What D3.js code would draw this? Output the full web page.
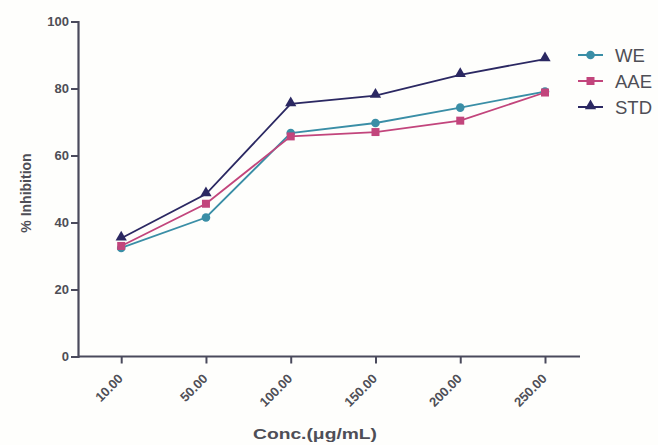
<!DOCTYPE html>
<html><head><meta charset="utf-8">
<script src="https://cdn.jsdelivr.net/npm/d3@7"></script>
<style>body{margin:0;background:#fefefc;} svg{display:block;font-family:"Liberation Sans",Arial,sans-serif;}</style>
</head><body>
<svg id="c" width="658" height="445"></svg>
<script>
const categories = ["10.00","50.00","100.00","150.00","200.00","250.00"];
const weValues  = [32.4, 41.5, 66.7, 69.7, 74.3, 79.1];
const aaeValues = [33.0, 45.6, 65.7, 67.0, 70.4, 78.8];
const stdValues = [35.3, 48.5, 75.4, 77.9, 84.1, 88.8];
const seriesNames = ["WE","AAE","STD"];
const yTicks = [0,20,40,60,80,100];

const colors = {WE:"#3a8ea6", AAE:"#c2457c", STD:"#2b2862"};
const symbols = {WE:d3.symbolCircle, AAE:d3.symbolSquare, STD:d3.symbolTriangle};
const symSize = {WE:58, AAE:64, STD:55};
const series = [
  {name:"WE", values:weValues},
  {name:"AAE", values:aaeValues},
  {name:"STD", values:stdValues}
];

const svg = d3.select("#c");
const axisColor = "#4a4a5c";
const textColor = "#4e4e56";
const x = d3.scalePoint().domain(categories).range([121.2, 545]);
const y = d3.scaleLinear().domain([0,100]).range([356.5, 21.5]);
const axisLeftX = 78, axisRightX = 580;

// y axis
const ya = svg.append("g").attr("transform",`translate(${axisLeftX},0)`)
  .call(d3.axisLeft(y).tickValues(yTicks).tickSize(7).tickPadding(2).tickFormat(d3.format("d")));
ya.select(".domain").attr("stroke",axisColor).attr("stroke-width",2.2);
ya.selectAll(".tick line").attr("stroke",axisColor).attr("stroke-width",2);
ya.selectAll(".tick text").attr("fill",textColor).attr("font-size","13px").attr("font-weight","bold");

// x axis
const xa = svg.append("g").attr("transform",`translate(0,${y(0)})`)
  .call(d3.axisBottom(x).tickSize(7).tickSizeOuter(0));
xa.select(".domain").attr("d",`M${axisLeftX},0H${axisRightX}`).attr("stroke",axisColor).attr("stroke-width",2.2);
xa.selectAll(".tick line").attr("stroke",axisColor).attr("stroke-width",2);
xa.selectAll(".tick text").attr("fill",textColor).attr("font-size","13px").attr("font-weight","bold")
  .attr("text-anchor","end").attr("dy",null).attr("y",null)
  .attr("transform","translate(2,23) rotate(-45)");

// axis titles
svg.append("text").attr("x",253).attr("y",439)
  .attr("textLength",124).attr("lengthAdjust","spacingAndGlyphs")
  .attr("font-size","15px").attr("font-weight","bold").attr("fill",textColor).text("Conc.(μg/mL)");
svg.append("text").attr("transform","translate(31,193) rotate(-90)").attr("text-anchor","middle")
  .attr("font-size","14px").attr("font-weight","bold").attr("fill",textColor).text("% Inhibition");

// lines
const line = d3.line().x((d,i)=>x(categories[i])).y(d=>y(d));
series.forEach(s=>{
  svg.append("path").datum(s.values).attr("d",line).attr("fill","none")
    .attr("stroke",colors[s.name]).attr("stroke-width",1.8);
});
series.forEach(s=>{
  svg.selectAll(null).data(s.values).enter().append("path")
    .attr("d",d3.symbol().type(symbols[s.name]).size(symSize[s.name]))
    .attr("transform",(d,i)=>`translate(${x(categories[i])},${y(d)+(s.name==="STD"?-1:0)})`)
    .attr("fill",colors[s.name]);
});

// legend
const lg = svg.append("g");
seriesNames.forEach((n,i)=>{
  const yy = 55 + i*26;
  lg.append("line").attr("x1",578).attr("x2",603).attr("y1",yy).attr("y2",yy)
    .attr("stroke",colors[n]).attr("stroke-width",2);
  lg.append("path").attr("d",d3.symbol().type(symbols[n]).size(symSize[n]))
    .attr("transform",`translate(590.5,${yy+(n==="STD"?-1:0)})`).attr("fill",colors[n]);
  lg.append("text").attr("x",615).attr("y",yy+6.5).attr("font-size","18.5px")
    .attr("fill",textColor).text(n);
});
</script>
</body></html>
